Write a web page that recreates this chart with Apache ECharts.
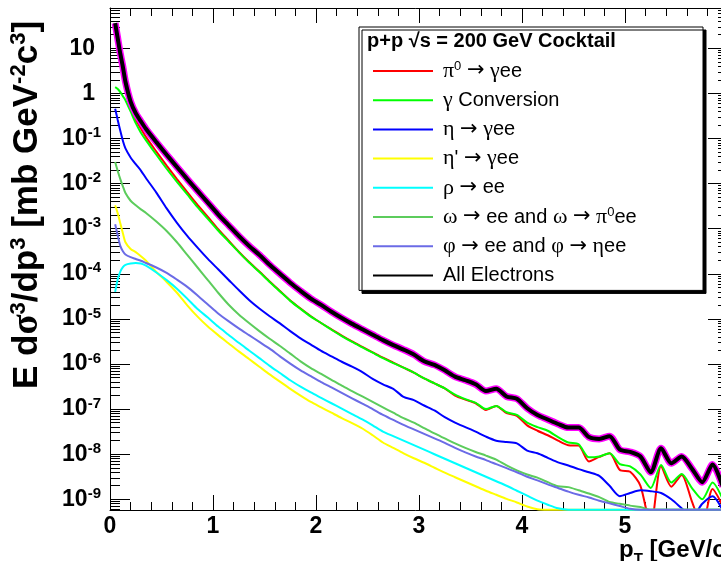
<!DOCTYPE html>
<html>
<head>
<meta charset="utf-8">
<script src="https://cdn.jsdelivr.net/npm/echarts@6/dist/echarts.min.js"></script>
<style>
html,body{margin:0;padding:0;background:#fff;}
#chart{width:721px;height:561px;}
</style>
</head>
<body>
<div id="chart"></div>
<script>
// pT bin centres [GeV/c]
const pt = [0.05,0.075,0.1,0.125,0.15,0.2,0.25,0.3,0.35,
  0.45,0.55,0.65,0.75,0.85,0.95,1.05,1.15,1.25,1.35,1.45,1.55,1.65,1.75,1.85,1.95,
  2.05,2.15,2.25,2.35,2.45,2.55,2.65,2.75,2.85,2.95,3.05,3.15,3.25,3.35,3.45,3.55,3.65,3.75,3.85,3.95,
  4.05,4.15,4.25,4.35,4.45,4.55,4.65,4.75,4.85,4.95,5.05,5.15,5.25,5.35,5.45,5.55,5.65,5.75,5.85,5.95];

// log10 of E d3sigma/dp3 [mb GeV^-2 c^3]
const logAll = [1.56,1.22,0.88,0.59,0.26,-0.18,-0.44,-0.62,-0.79,
  -1.08,-1.36,-1.63,-1.90,-2.16,-2.42,-2.68,-2.92,-3.16,-3.38,-3.58,-3.80,-4.00,-4.20,-4.38,-4.55,
  -4.69,-4.84,-4.98,-5.11,-5.23,-5.35,-5.47,-5.58,-5.68,-5.79,-5.94,-6.02,-6.14,-6.28,-6.36,-6.45,-6.60,-6.55,-6.72,-6.77,
  -6.98,-7.13,-7.23,-7.33,-7.41,-7.41,-7.62,-7.66,-7.60,-7.90,-7.95,-8.05,-8.40,-7.87,-8.20,-8.05,-8.32,-8.62,-8.23,-8.72];
const logPi0 = [1.54,1.19,0.84,0.53,0.19,-0.29,-0.58,-0.78,-0.97,
  -1.29,-1.60,-1.90,-2.19,-2.47,-2.74,-3.01,-3.26,-3.51,-3.74,-3.95,-4.17,-4.38,-4.59,-4.77,-4.94,
  -5.09,-5.23,-5.37,-5.50,-5.62,-5.74,-5.86,-5.97,-6.08,-6.19,-6.32,-6.43,-6.54,-6.70,-6.79,-6.87,-7.02,-6.93,-7.09,-7.15,
  -7.36,-7.48,-7.58,-7.70,-7.80,-7.81,-8.16,-8.06,-7.98,-8.35,-8.39,-8.70,-9.60,-8.26,-8.72,-8.46,-9.05,-9.60,-8.77,-9.15];
const logGamma = [0.14,0.10,0.03,-0.06,-0.15,-0.40,-0.66,-0.87,-1.04,
  -1.36,-1.67,-1.96,-2.24,-2.52,-2.78,-3.04,-3.28,-3.52,-3.75,-3.96,-4.18,-4.39,-4.60,-4.78,-4.95,
  -5.09,-5.24,-5.38,-5.51,-5.63,-5.75,-5.87,-5.98,-6.08,-6.19,-6.32,-6.43,-6.54,-6.68,-6.78,-6.86,-7.00,-6.93,-7.07,-7.13,
  -7.30,-7.40,-7.48,-7.62,-7.74,-7.78,-8.07,-8.05,-7.98,-8.22,-8.27,-8.45,-8.75,-8.24,-8.63,-8.44,-8.75,-9.00,-8.63,-9.00];
const logEta = [-0.34,-0.59,-0.83,-1.05,-1.22,-1.42,-1.57,-1.71,-1.88,
  -2.20,-2.55,-2.87,-3.16,-3.42,-3.67,-3.90,-4.13,-4.36,-4.58,-4.77,-4.94,-5.10,-5.27,-5.43,-5.57,
  -5.71,-5.83,-5.95,-6.06,-6.18,-6.33,-6.45,-6.55,-6.73,-6.80,-6.92,-7.03,-7.18,-7.30,-7.40,-7.50,-7.61,-7.70,-7.73,-7.76,
  -7.92,-7.98,-8.08,-8.18,-8.25,-8.33,-8.40,-8.48,-8.70,-8.93,-8.86,-8.80,-8.82,-8.86,-9.00,-9.20,-9.40,-9.10,-8.93,-9.25];
const logEtaPrime = [-2.48,-2.66,-2.88,-3.10,-3.30,-3.45,-3.52,-3.61,-3.71,
  -3.96,-4.18,-4.42,-4.70,-4.95,-5.17,-5.36,-5.54,-5.72,-5.89,-6.06,-6.23,-6.39,-6.55,-6.70,-6.84,
  -6.96,-7.08,-7.20,-7.31,-7.43,-7.58,-7.74,-7.86,-7.98,-8.09,-8.19,-8.30,-8.41,-8.51,-8.61,-8.71,-8.81,-8.90,-8.99,-9.07,
  -9.16,-9.22,-9.23,-9.23,-9.23,-9.23,-9.23,-9.23,-9.23,-9.23,-9.23,-9.23,-9.23,-9.23,-9.23,-9.23,-9.23,-9.23,-9.23,-9.23];
const logRho = [-4.40,-4.12,-3.95,-3.85,-3.80,-3.77,-3.76,-3.77,-3.82,
  -3.97,-4.14,-4.33,-4.55,-4.78,-4.97,-5.17,-5.35,-5.53,-5.70,-5.87,-6.04,-6.20,-6.36,-6.50,-6.63,
  -6.75,-6.87,-6.99,-7.11,-7.23,-7.36,-7.50,-7.60,-7.70,-7.80,-7.90,-8.00,-8.10,-8.20,-8.30,-8.40,-8.50,-8.60,-8.70,-8.81,
  -8.92,-9.03,-9.12,-9.20,-9.23,-9.23,-9.23,-9.23,-9.23,-9.23,-9.23,-9.23,-9.23,-9.23,-9.23,-9.23,-9.23,-9.23,-9.23,-9.23];
const logOmega = [-1.52,-1.72,-1.90,-2.06,-2.21,-2.38,-2.48,-2.57,-2.65,
  -2.84,-3.05,-3.30,-3.58,-3.86,-4.14,-4.42,-4.68,-4.90,-5.09,-5.27,-5.44,-5.60,-5.77,-5.94,-6.09,
  -6.22,-6.35,-6.48,-6.60,-6.72,-6.84,-6.96,-7.08,-7.20,-7.30,-7.42,-7.54,-7.65,-7.76,-7.86,-7.95,-8.03,-8.12,-8.25,-8.36,
  -8.45,-8.52,-8.62,-8.71,-8.73,-8.80,-8.87,-8.95,-9.06,-9.10,-9.14,-9.17,-9.23,-9.23,-9.23,-9.23,-9.23,-9.23,-9.23,-9.23];
const logPhi = [-2.90,-3.15,-3.38,-3.50,-3.57,-3.63,-3.67,-3.71,-3.76,
  -3.86,-3.98,-4.13,-4.29,-4.48,-4.68,-4.88,-5.05,-5.21,-5.36,-5.51,-5.66,-5.83,-5.99,-6.14,-6.27,
  -6.40,-6.52,-6.64,-6.76,-6.88,-7.00,-7.13,-7.24,-7.35,-7.45,-7.55,-7.65,-7.75,-7.86,-7.96,-8.05,-8.13,-8.22,-8.31,-8.40,
  -8.50,-8.58,-8.67,-8.75,-8.83,-8.90,-8.96,-9.03,-9.09,-9.15,-9.21,-9.23,-9.23,-9.23,-9.23,-9.23,-9.23,-9.23,-9.23,-9.23];

// legend labels (rich text)
const seriesNames = ['pi0','gamma','eta','etaprime','rho','omega','phi','all'];
const legendLabels = {
  pi0: '{g|π}{sup|0}{t| }{a|→}{t| }{g|γ}{t|ee}',
  gamma: '{g|γ}{t| Conversion}',
  eta: '{g|η}{t| }{a|→}{t| }{g|γ}{t|ee}',
  etaprime: "{g|η}{t|' }{a|→}{t| }{g|γ}{t|ee}",
  rho: '{g|ρ}{t| }{a|→}{t| ee}',
  omega: '{g|ω}{t| }{a|→}{t| ee and }{g|ω}{t| }{a|→}{t| }{g|π}{sup|0}{t|ee}',
  phi: '{g|φ}{t| }{a|→}{t| ee and }{g|φ}{t| }{a|→}{t| }{g|η}{t|ee}',
  all: '{t|All Electrons}'
};
const yMajorTicks = [-9,-8,-7,-6,-5,-4,-3,-2,-1,0,1];

const yMin = -9.237, yMax = 1.894;
const yMinor = [];
for (let n = -10; n <= 1; n++) for (let k = 2; k <= 9; k++) {
  const v = n + Math.log10(k);
  if (v > yMin && v < yMax) yMinor.push(v);
}

const chart = echarts.init(document.getElementById('chart'), null, {renderer:'canvas'});
const font = 'Liberation Sans, Arial, sans-serif';

function mk(name, arr, color, width, z) {
  return {
    name: name, type: 'line', data: pt.map((x, i) => [x, arr[i]]),
    showSymbol: false, symbol: 'none', smooth: 0.25, clip: true,
    lineStyle: {color: color, width: width}, itemStyle: {color: color},
    z: z, animation: false, silent: true
  };
}

const series = [
  mk('pi0', logPi0, '#ff0000', 2, 2),
  mk('gamma', logGamma, '#00ff00', 2, 2),
  mk('eta', logEta, '#0000ff', 2, 2),
  mk('etaprime', logEtaPrime, '#ffff00', 2, 2),
  mk('rho', logRho, '#00ffff', 2, 2),
  mk('omega', logOmega, '#5ccc5c', 2, 2),
  mk('phi', logPhi, '#6b6be6', 2, 2),
  mk('band', logAll, '#ff00ff', 7, 3),
  mk('all', logAll, '#000000', 4, 4)
];

const yLabelRich = {
  b: {fontFamily: font, fontWeight: 'bold', fontSize: 23, lineHeight: 26, color: '#000'},
  s: {fontFamily: font, fontWeight: 'bold', fontSize: 15, lineHeight: 14, verticalAlign: 'top', color: '#000'},
  pad: {width: 6, lineHeight: 26}
};

const option = {
  animation: false,
  backgroundColor: '#ffffff',
  title: {
    text: 'p+p √s = 200 GeV Cocktail',
    left: 367, top: 31, padding: 0,
    textStyle: {fontFamily: font, fontWeight: 'bold', fontSize: 20, color: '#000'}
  },
  legend: {
    data: seriesNames,
    orient: 'vertical',
    left: 359, top: 27,
    padding: [33, 10, 4, 13],
    itemWidth: 60, itemHeight: 14, itemGap: 7.2,
    selectedMode: false,
    backgroundColor: '#ffffff',
    borderColor: '#000', borderWidth: 1,
    shadowColor: '#000', shadowBlur: 0, shadowOffsetX: 3, shadowOffsetY: 3,
    itemStyle: {opacity: 0},
    formatter: n => legendLabels[n],
    textStyle: {
      width: 250, padding: [0, 0, 0, 5], lineHeight: 22,
      fontFamily: font, fontSize: 20, color: '#000',
      rich: {
        t: {fontFamily: font, fontSize: 20, lineHeight: 22, color: '#000'},
        a: {fontFamily: 'DejaVu Sans, sans-serif', fontSize: 21, lineHeight: 22, color: '#000'},
        g: {fontFamily: 'Liberation Serif, serif', fontSize: 22, lineHeight: 22, color: '#000'},
        sup: {fontFamily: font, fontSize: 13, lineHeight: 12, verticalAlign: 'top', color: '#000'}
      }
    }
  },
  grid: {left: 110, right: -7, top: 8, bottom: 51, containLabel: false, outerBoundsMode: 'none'},
  xAxis: [
    {
      type: 'value', min: 0, max: 6, interval: 1, position: 'bottom',
      axisLine: {onZero: false, lineStyle: {color: '#000', width: 1}},
      axisTick: {inside: true, length: 15, lineStyle: {color: '#000'}},
      minorTick: {show: true, splitNumber: 5, length: 8, lineStyle: {color: '#000'}},
      splitLine: {show: false},
      axisLabel: {margin: 5, showMaxLabel: false, fontFamily: font, fontWeight: 'bold', fontSize: 23, lineHeight: 24, color: '#000'},
      name: 'p{sub|T} [GeV/c]', nameLocation: 'end', nameGap: -109, nameMoveOverlap: false,
      nameTextStyle: {
        align: 'left', verticalAlign: 'top', padding: [24, 0, 0, 0],
        fontFamily: font, fontWeight: 'bold', fontSize: 24, lineHeight: 26, color: '#000',
        rich: {sub: {fontFamily: font, fontWeight: 'bold', fontSize: 15, lineHeight: 32, verticalAlign: 'bottom', color: '#000'}}
      }
    },
    {
      type: 'value', min: 0, max: 6, interval: 1, position: 'top',
      axisLine: {onZero: false, lineStyle: {color: '#000', width: 1}},
      axisTick: {inside: true, length: 15, lineStyle: {color: '#000'}},
      minorTick: {show: true, splitNumber: 5, length: 8, lineStyle: {color: '#000'}},
      splitLine: {show: false}, axisLabel: {show: false}
    }
  ],
  yAxis: [
    {
      type: 'value', min: yMin, max: yMax, position: 'left',
      axisLine: {onZero: false, lineStyle: {color: '#000', width: 1}},
      axisTick: {inside: true, length: 20, customValues: yMajorTicks, lineStyle: {color: '#000'}},
      splitLine: {show: false},
      axisLabel: {
        customValues: yMajorTicks, margin: 9,
        formatter: function (v) {
          const n = Math.round(v);
          if (n === 1) return '{b|10}{pad|}';
          if (n === 0) return '{b|1}{pad|}';
          return '{b|10}{s|' + n + '}';
        },
        rich: yLabelRich
      },
      name: 'E d{g|σ}{sup|3}/dp{sup|3} [mb GeV{sup|-2}c{sup|3}]',
      nameLocation: 'middle', nameRotate: 90, nameGap: 64,
      nameTextStyle: {
        padding: [0, 0, 0, 108],
        fontFamily: font, fontWeight: 'bold', fontSize: 35, lineHeight: 38, color: '#000',
        rich: {
          g: {fontFamily: 'Liberation Serif, serif', fontWeight: 'bold', fontSize: 37, lineHeight: 38, color: '#000'},
          sup: {fontFamily: font, fontWeight: 'bold', fontSize: 22, lineHeight: 20, verticalAlign: 'top', color: '#000'}
        }
      }
    },
    {
      type: 'value', min: yMin, max: yMax, position: 'left',
      axisLine: {show: false, onZero: false},
      axisTick: {inside: true, length: 10, customValues: yMinor, lineStyle: {color: '#000'}},
      splitLine: {show: false}, axisLabel: {show: false}
    },
    {
      type: 'value', min: yMin, max: yMax, position: 'right',
      axisLine: {onZero: false, lineStyle: {color: '#000', width: 1}},
      axisTick: {inside: true, length: 20, customValues: yMajorTicks, lineStyle: {color: '#000'}},
      splitLine: {show: false}, axisLabel: {show: false}
    },
    {
      type: 'value', min: yMin, max: yMax, position: 'right',
      axisLine: {show: false, onZero: false},
      axisTick: {inside: true, length: 10, customValues: yMinor, lineStyle: {color: '#000'}},
      splitLine: {show: false}, axisLabel: {show: false}
    }
  ],
  series: series
};
chart.setOption(option);
</script>
</body>
</html>
